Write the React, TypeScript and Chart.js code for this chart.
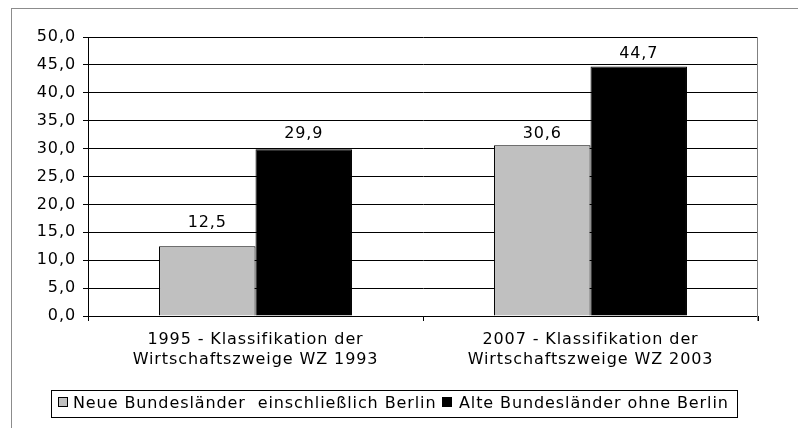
import React, { useEffect, useRef } from 'react';
import { Chart, registerables } from 'chart.js';

Chart.register(...registerables);

const categories: string[][] = [
  ['1995 - Klassifikation der', 'Wirtschaftszweige WZ 1993'],
  ['2007 - Klassifikation der', 'Wirtschaftszweige WZ 2003'],
];
const seriesNames = ['Neue Bundesländer  einschließlich Berlin', 'Alte Bundesländer ohne Berlin'];
const neueValues = [12.5, 30.6];
const alteValues = [29.9, 44.7];
const seriesColors = ['#C0C0C0', '#000000'];
const yMin = 0;
const yMax = 50;
const yStep = 5;

const FONT = 'DejaVu Sans';
const fmt = (v: number) => v.toFixed(1).replace('.', ',');

// label lift above bar top (style), per dataset / category
const labelLift = [
  [23, 11],
  [15, 13],
];

const spacingPlugin = {
  id: 'spacing',
  beforeUpdate(chart: any) {
    chart.ctx.letterSpacing = '0.9px';
  },
  beforeDraw(chart: any) {
    chart.ctx.letterSpacing = '0.9px';
  },
};

const framePlugin = {
  id: 'frame',
  beforeDraw(chart: any) {
    const ctx = chart.ctx;
    ctx.save();
    ctx.fillStyle = '#ffffff';
    ctx.fillRect(0, 0, chart.width, chart.height);
    ctx.strokeStyle = '#8c8c8c';
    ctx.lineWidth = 1;
    ctx.strokeRect(11.5, 8.5, chart.width + 20, chart.height + 20);
    ctx.restore();
  },
  afterDatasetsDraw(chart: any) {
    const ctx = chart.ctx;
    const area = chart.chartArea;
    ctx.save();
    ctx.strokeStyle = '#808080';
    ctx.lineWidth = 1;
    ctx.beginPath();
    ctx.moveTo(Math.round(area.right) - 0.5, area.top);
    ctx.lineTo(Math.round(area.right) - 0.5, area.bottom + 5);
    ctx.stroke();
    ctx.fillStyle = '#000';
    ctx.font = `16px "${FONT}"`;
    ctx.textAlign = 'center';
    ctx.textBaseline = 'middle';
    chart.data.datasets.forEach((ds: any, i: number) => {
      const meta = chart.getDatasetMeta(i);
      meta.data.forEach((bar: any, j: number) => {
        ctx.fillText(fmt(ds.data[j]), bar.x, bar.y - labelLift[i][j]);
      });
    });
    ctx.restore();
  },
};

const legendPlugin = {
  id: 'customLegend',
  afterDraw(chart: any) {
    const ctx = chart.ctx;
    ctx.save();
    ctx.strokeStyle = '#000';
    ctx.lineWidth = 1;
    ctx.strokeRect(51.5, 390.5, 686, 27);
    ctx.font = `16px "${FONT}"`;
    ctx.textBaseline = 'middle';
    ctx.textAlign = 'left';
    const markerX = [58, 442];
    const textX = [73, 459];
    seriesNames.forEach((name, i) => {
      ctx.fillStyle = seriesColors[i];
      ctx.fillRect(markerX[i], 397, 10, 10);
      ctx.strokeStyle = '#000';
      ctx.strokeRect(markerX[i] + 0.5, 397.5, 9, 9);
      ctx.fillStyle = '#000';
      ctx.fillText(name, textX[i], 404);
    });
    ctx.restore();
  },
};

export default function App() {
  const ref = useRef<HTMLCanvasElement>(null);
  useEffect(() => {
    if (!ref.current) return;
    const chart = new Chart(ref.current, {
      type: 'bar',
      data: {
        labels: categories,
        datasets: [
          {
            label: seriesNames[0],
            data: neueValues,
            backgroundColor: seriesColors[0],
            borderColor: '#000',
            borderWidth: 1,
            barPercentage: 1,
            categoryPercentage: 0.576,
          },
          {
            label: seriesNames[1],
            data: alteValues,
            backgroundColor: seriesColors[1],
            borderColor: '#000',
            borderWidth: 1,
            barPercentage: 1,
            categoryPercentage: 0.576,
          },
        ],
      },
      options: {
        responsive: false,
        animation: false,
        devicePixelRatio: 1,
        layout: { padding: { top: 37, right: 40, left: 0, bottom: 0 } },
        plugins: {
          legend: { display: false },
          tooltip: { enabled: false },
        },
        scales: {
          x: {
            offset: true,
            grid: { display: true, drawOnChartArea: false, drawTicks: true, tickLength: 5, color: '#000', offset: true },
            border: { display: true, color: '#000' },
            ticks: {
              color: '#000',
              font: { family: FONT, size: 16, lineHeight: '20px' } as any,
              padding: 9,
              maxRotation: 0,
              autoSkip: false,
            },
            afterFit(scale: any) {
              scale.height = 112;
            },
          },
          y: {
            min: yMin,
            max: yMax,
            grid: { color: '#000', drawTicks: true, tickLength: 5 },
            border: { display: true, color: '#000' },
            ticks: {
              stepSize: yStep,
              color: '#000',
              font: { family: FONT, size: 16 },
              padding: 7,
              callback: (v: any) => fmt(Number(v)),
            },
            afterFit(scale: any) {
              scale.width = 88;
            },
          },
        },
      },
      plugins: [spacingPlugin, framePlugin, legendPlugin],
    });
    return () => chart.destroy();
  }, []);
  return (
    <div style={{ position: 'absolute', left: 0, top: 0, width: 798, height: 428 }}>
      <canvas ref={ref} width={798} height={428} style={{ display: 'block' }} />
    </div>
  );
}
